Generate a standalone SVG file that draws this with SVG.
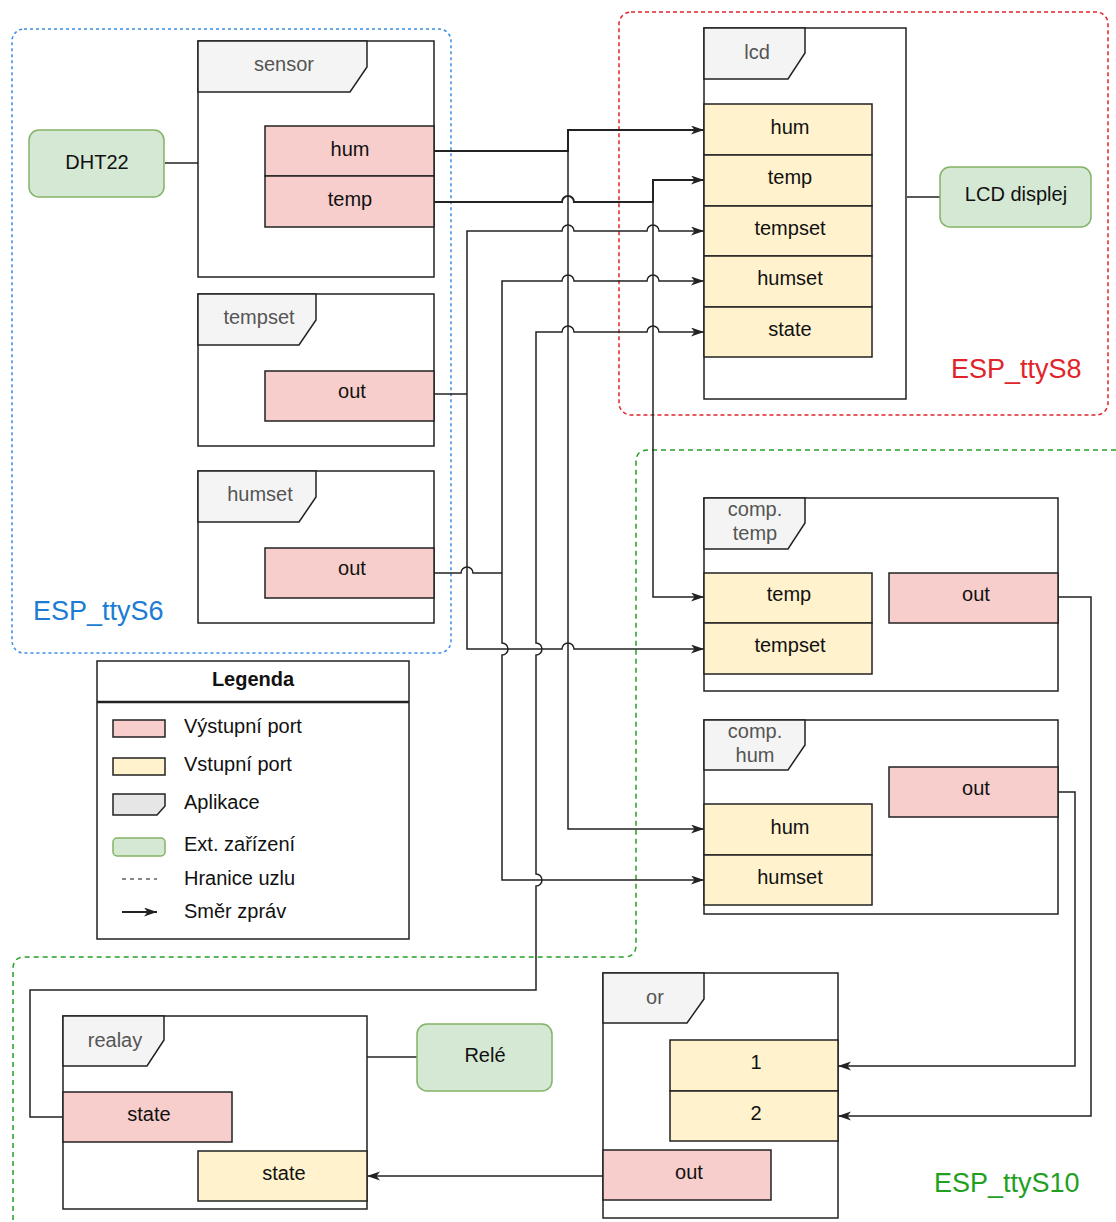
<svg xmlns="http://www.w3.org/2000/svg" width="1116" height="1222" viewBox="0 0 1116 1222">
<defs>
<marker id="arr" markerWidth="14" markerHeight="10" refX="13" refY="4.5" orient="auto" markerUnits="userSpaceOnUse">
<path d="M0,0 L13,4.5 L0,9 L3.5,4.5 z" fill="#222"/>
</marker>
</defs>
<style>
text{font-family:"Liberation Sans",Arial,sans-serif;font-size:20px;fill:#111}
.lbl{text-anchor:middle}
.tab{text-anchor:middle;fill:#555}
.box{fill:#fff;stroke:#222;stroke-width:1.5}
.tabs{fill:#f4f4f4;stroke:#222;stroke-width:1.5}
.out{fill:#f8cecc;stroke:#222;stroke-width:1.5}
.in{fill:#fff2cc;stroke:#222;stroke-width:1.5}
.ext{fill:#d5e8d4;stroke:#82b366;stroke-width:1.5}
.conn{fill:none;stroke:#222;stroke-width:1.5}
.arrow{marker-end:url(#arr)}
.bnd{fill:none;stroke-width:1.5}
.esp{font-size:27px}
</style>
<rect width="1116" height="1222" fill="#fff"/>

<g id="boundaries">
<rect x="12" y="29" width="439" height="624" rx="12" class="bnd" stroke="#3a8ee6" stroke-dasharray="3 3"/>
<rect x="619" y="12" width="489" height="403" rx="12" class="bnd" stroke="#e0242a" stroke-dasharray="4 3"/>
<path d="M1116 450 H648 Q636 450 636 462 V945 Q636 957 624 957 H25 Q13 957 13 969 V1222" class="bnd" stroke="#22a022" stroke-dasharray="5 4"/>
<text x="33" y="620" class="esp" style="fill:#1c7cd5">ESP_ttyS6</text>
<text x="951" y="378" class="esp" style="fill:#e0242a">ESP_ttyS8</text>
<text x="934" y="1192" class="esp" style="fill:#1fa01f">ESP_ttyS10</text>
</g>

<g id="connectors">
<path class="conn" d="M165 163 H198"/>
<path class="conn" d="M907 197 H940"/>
<path class="conn" d="M367 1057 H417"/>
<path class="conn arrow" style="stroke-width:2" d="M434 151 H568 V130 H704"/>
<path class="conn arrow" d="M568 130 V829 H704"/>
<path class="conn arrow" style="stroke-width:2" d="M434 202 H562 A6 6 0 0 1 574 202 H653 V180 H704"/>
<path class="conn arrow" d="M653 180 V597 H704"/>
<path class="conn" d="M434 394 H467"/>
<path class="conn arrow" d="M467 394 V231 H562 A6 6 0 0 1 574 231 H647 A6 6 0 0 1 659 231 H704"/>
<path class="conn arrow" d="M467 394 V649 H562 A6 6 0 0 1 574 649 H704"/>
<path class="conn" d="M434 573 H461 A6 6 0 0 1 473 573 H502"/>
<path class="conn arrow" d="M502 573 V281 H562 A6 6 0 0 1 574 281 H647 A6 6 0 0 1 659 281 H704"/>
<path class="conn arrow" d="M502 573 V643 A6 6 0 0 1 502 655 V880 H704"/>
<path class="conn arrow" d="M63 1117 H30 V990 H536 V886 A6 6 0 0 0 536 874 V655 A6 6 0 0 0 536 643 V332 H562 A6 6 0 0 1 574 332 H647 A6 6 0 0 1 659 332 H704"/>
<path class="conn arrow" d="M1058 597 H1091 V1116 H838"/>
<path class="conn arrow" d="M1058 792 H1075 V1066 H838"/>
<path class="conn arrow" d="M603 1176 H367"/>
</g>

<g id="DHT22">
<rect x="29" y="130" width="135" height="67" rx="10" class="ext"/>
<text x="97" y="169" class="lbl">DHT22</text>
</g>

<g id="sensor">
<rect x="198" y="41" width="236" height="236" class="box"/>
<path d="M198 41 H367 V67 L350 92 H198 Z" class="tabs"/>
<text x="284" y="71" class="tab">sensor</text>
<rect x="265" y="126" width="169" height="50" class="out"/>
<text x="350" y="156" class="lbl">hum</text>
<rect x="265" y="176" width="169" height="51" class="out"/>
<text x="350" y="206" class="lbl">temp</text>
</g>

<g id="tempset">
<rect x="198" y="294" width="236" height="152" class="box"/>
<path d="M198 294 H316 V320 L299 345 H198 Z" class="tabs"/>
<text x="259" y="324" class="tab">tempset</text>
<rect x="265" y="371" width="169" height="50" class="out"/>
<text x="352" y="398" class="lbl">out</text>
</g>

<g id="humset">
<rect x="198" y="471" width="236" height="152" class="box"/>
<path d="M198 471 H316 V497 L299 522 H198 Z" class="tabs"/>
<text x="260" y="501" class="tab">humset</text>
<rect x="265" y="548" width="169" height="50" class="out"/>
<text x="352" y="575" class="lbl">out</text>
</g>

<g id="lcd">
<rect x="704" y="28" width="202" height="371" class="box"/>
<path d="M704 28 H805 V53 L788 79 H704 Z" class="tabs"/>
<text x="757" y="59" class="tab">lcd</text>
<rect x="704" y="104" width="168" height="51" class="in"/>
<text x="790" y="134" class="lbl">hum</text>
<rect x="704" y="155" width="168" height="51" class="in"/>
<text x="790" y="184" class="lbl">temp</text>
<rect x="704" y="206" width="168" height="50" class="in"/>
<text x="790" y="235" class="lbl">tempset</text>
<rect x="704" y="256" width="168" height="51" class="in"/>
<text x="790" y="285" class="lbl">humset</text>
<rect x="704" y="307" width="168" height="50" class="in"/>
<text x="790" y="336" class="lbl">state</text>
</g>

<g id="LCD_displej">
<rect x="940" y="167" width="151" height="60" rx="10" class="ext"/>
<text x="1016" y="201" class="lbl">LCD displej</text>
</g>

<g id="comp_temp">
<rect x="704" y="498" width="354" height="193" class="box"/>
<path d="M704 498 H805 V523 L788 549 H704 Z" class="tabs"/>
<text x="755" y="516" class="tab">comp.</text>
<text x="755" y="540" class="tab">temp</text>
<rect x="704" y="573" width="168" height="50" class="in"/>
<text x="789" y="601" class="lbl">temp</text>
<rect x="704" y="623" width="168" height="51" class="in"/>
<text x="790" y="652" class="lbl">tempset</text>
<rect x="889" y="573" width="169" height="50" class="out"/>
<text x="976" y="601" class="lbl">out</text>
</g>

<g id="comp_hum">
<rect x="704" y="720" width="354" height="194" class="box"/>
<path d="M704 720 H805 V745 L788 770 H704 Z" class="tabs"/>
<text x="755" y="738" class="tab">comp.</text>
<text x="755" y="762" class="tab">hum</text>
<rect x="889" y="767" width="169" height="50" class="out"/>
<text x="976" y="795" class="lbl">out</text>
<rect x="704" y="804" width="168" height="51" class="in"/>
<text x="790" y="834" class="lbl">hum</text>
<rect x="704" y="855" width="168" height="50" class="in"/>
<text x="790" y="884" class="lbl">humset</text>
</g>

<g id="or">
<rect x="603" y="973" width="235" height="245" class="box"/>
<path d="M603 973 H704 V999 L687 1023 H603 Z" class="tabs"/>
<text x="655" y="1004" class="tab">or</text>
<rect x="670" y="1040" width="168" height="51" class="in"/>
<text x="756" y="1069" class="lbl">1</text>
<rect x="670" y="1091" width="168" height="50" class="in"/>
<text x="756" y="1120" class="lbl">2</text>
<rect x="603" y="1150" width="168" height="50" class="out"/>
<text x="689" y="1179" class="lbl">out</text>
</g>

<g id="realay">
<rect x="63" y="1016" width="304" height="193" class="box"/>
<path d="M63 1016 H164 V1040 L147 1066 H63 Z" class="tabs"/>
<text x="115" y="1047" class="tab">realay</text>
<rect x="63" y="1092" width="169" height="50" class="out"/>
<text x="149" y="1121" class="lbl">state</text>
<rect x="198" y="1151" width="169" height="50" class="in"/>
<text x="284" y="1180" class="lbl">state</text>
</g>

<g id="Rele">
<rect x="417" y="1024" width="135" height="67" rx="10" class="ext"/>
<text x="485" y="1062" class="lbl">Relé</text>
</g>

<g id="legend">
<rect x="97" y="661" width="312" height="278" fill="#fff" stroke="#222" stroke-width="1.5"/>
<line x1="97" y1="702" x2="409" y2="702" stroke="#222" stroke-width="2.5"/>
<text x="253" y="686" class="lbl" style="font-weight:bold">Legenda</text>
<rect x="113" y="720" width="52" height="17" class="out"/>
<text x="184" y="733">Výstupní port</text>
<rect x="113" y="758" width="52" height="17" class="in"/>
<text x="184" y="771">Vstupní port</text>
<path d="M113 794 H165 V806 L157 815 H113 Z" fill="#e6e6e6" stroke="#222" stroke-width="1.5"/>
<text x="184" y="809">Aplikace</text>
<rect x="113" y="838" width="52" height="18" rx="4" class="ext"/>
<text x="184" y="851">Ext. zařízení</text>
<line x1="122" y1="879" x2="157" y2="879" stroke="#888" stroke-width="2" stroke-dasharray="4 4"/>
<text x="184" y="885">Hranice uzlu</text>
<path class="conn arrow" style="stroke-width:2" d="M122 912 H157"/>
<text x="184" y="918">Směr zpráv</text>
</g>
</svg>
